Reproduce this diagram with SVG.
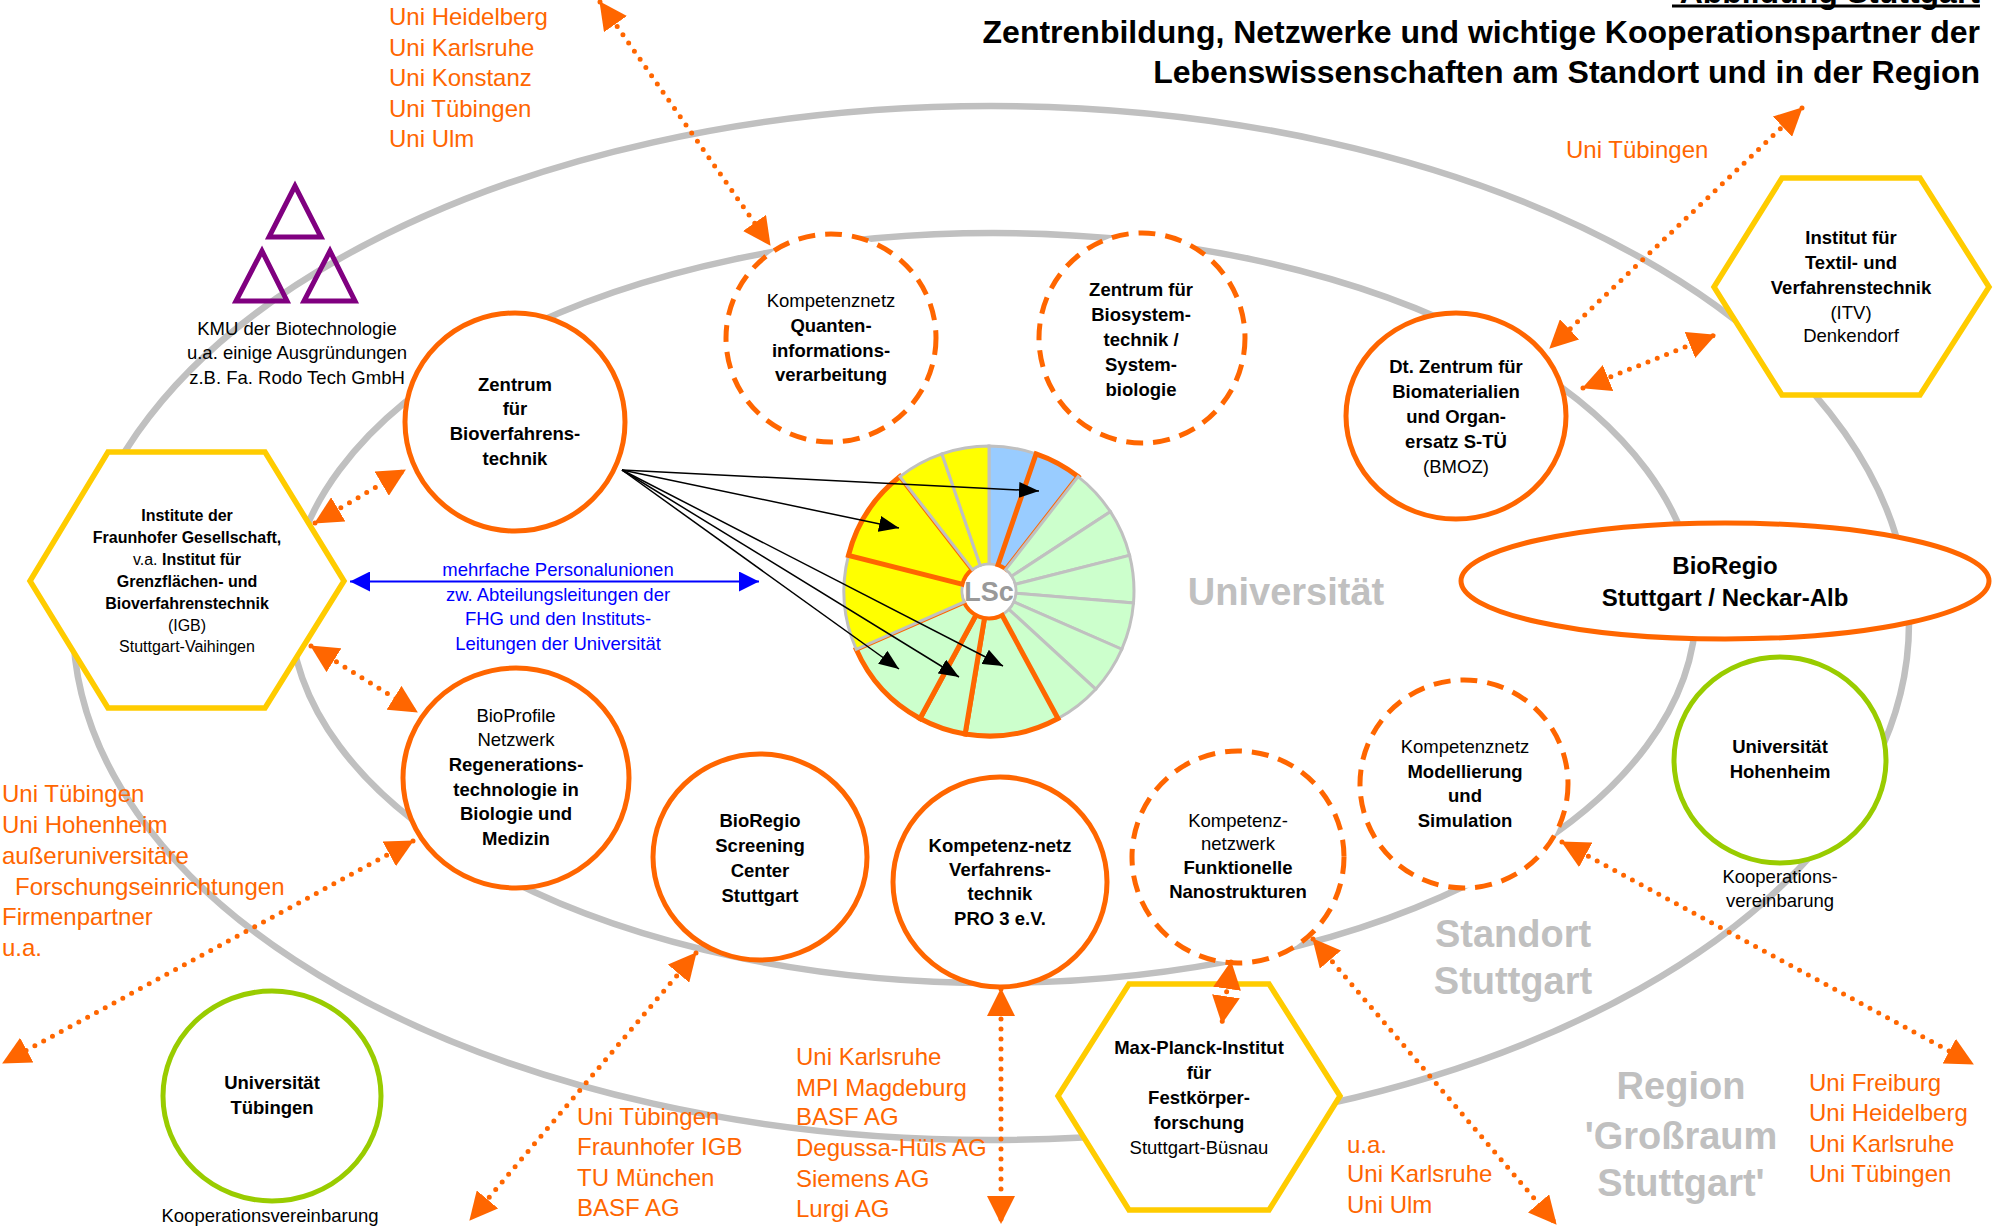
<svg xmlns="http://www.w3.org/2000/svg" width="1993" height="1226" viewBox="0 0 1993 1226">
<style>
.t{font-family:"Liberation Sans",Arial,Helvetica,sans-serif;font-size:18.5px;text-anchor:middle;fill:#000}
.b{font-weight:bold}
.s{font-size:16px}
.big{font-size:24px}
.o{font-family:"Liberation Sans",Arial,Helvetica,sans-serif;font-size:24px;fill:#ff6600}
.bl{fill:#0000ff}
.gl{font-family:"Liberation Sans",Arial,Helvetica,sans-serif;font-size:38px;font-weight:bold;fill:#c0c0c0;text-anchor:middle}
.h{font-family:"Liberation Sans",Arial,Helvetica,sans-serif;font-size:32px;font-weight:bold;text-anchor:end;fill:#000}
.ring{fill:none;stroke:#c0c0c0;stroke-width:6.5}
.sc{fill:#fff;stroke:#ff6600;stroke-width:5}
.dc{fill:#fff;stroke:#ff6600;stroke-width:5;stroke-dasharray:17 10}
.gc{fill:#fff;stroke:#99cc00;stroke-width:5}
.hex{fill:#fff;stroke:#ffcc00;stroke-width:5.5}
.tri{fill:none;stroke:#800080;stroke-width:5}
.dot{fill:none;stroke:#ff6600;stroke-width:5;stroke-linecap:round;stroke-dasharray:0 10;marker-start:url(#ao);marker-end:url(#ao)}
.seg{stroke:#c0c0c0;stroke-width:3}
.hl{stroke:#ff6600;stroke-width:5}
.y{fill:#ffff00}.bu{fill:#99ccff}.gr{fill:#ccffcc}
.ba{stroke:#000;stroke-width:1.5;fill:none;marker-end:url(#ab)}
</style>
<defs>
<marker id="ao" viewBox="0 0 28 28" refX="27" refY="14" markerWidth="28" markerHeight="28" markerUnits="userSpaceOnUse" orient="auto-start-reverse"><path d="M0,0 L28,14 L0,28 Z" fill="#ff6600"/></marker>
<marker id="ab" viewBox="0 0 20 16" refX="20" refY="8" markerWidth="20" markerHeight="16" markerUnits="userSpaceOnUse" orient="auto"><path d="M0,0 L20,8 L0,16 Z" fill="#000"/></marker>
<marker id="abl" viewBox="0 0 20 20" refX="20" refY="10" markerWidth="20" markerHeight="20" markerUnits="userSpaceOnUse" orient="auto-start-reverse"><path d="M0,0 L20,10 L0,20 Z" fill="#0000ff"/></marker>
</defs>
<rect width="1993" height="1226" fill="#fff"/>

<g id="title">
<text class="h" x="1980" y="3">Abbildung Stuttgart</text>
<rect x="1672" y="4.5" width="308" height="3" fill="#000"/>
<text class="h" x="1980" y="43">Zentrenbildung, Netzwerke und wichtige Kooperationspartner der</text>
<text class="h" x="1980" y="83">Lebenswissenschaften am Standort und in der Region</text>
</g>

<g id="regions">
<ellipse class="ring" cx="991" cy="623" rx="918" ry="517"/>
<ellipse class="ring" cx="993" cy="608" rx="703" ry="375"/>
<text class="gl" x="1286" y="605">Universität</text>
<text class="gl" x="1513" y="947">Standort</text>
<text class="gl" x="1513" y="994">Stuttgart</text>
<text class="gl" x="1681" y="1099">Region</text>
<text class="gl" x="1681" y="1149">'Großraum</text>
<text class="gl" x="1681" y="1196">Stuttgart'</text>
</g>

<g id="lsc">
<path class="seg bu" d="M989,564 L989,446 A145,145 0 0 1 1036.08,453.86 L997.77,565.46 A27,27 0 0 0 989,564 Z"/>
<path class="hl bu" d="M997.77,565.46 L1036.08,453.86 A145,145 0 0 1 1078.06,476.57 L1005.58,569.69 A27,27 0 0 0 997.77,565.46 Z"/>
<path class="seg gr" d="M1005.58,569.69 L1078.06,476.57 A145,145 0 0 1 1110.39,511.69 L1011.60,576.23 A27,27 0 0 0 1005.58,569.69 Z"/>
<path class="seg gr" d="M1011.60,576.23 L1110.39,511.69 A145,145 0 0 1 1129.56,555.40 L1015.17,584.37 A27,27 0 0 0 1011.60,576.23 Z"/>
<path class="seg gr" d="M1015.17,584.37 L1129.56,555.40 A145,145 0 0 1 1133.50,602.97 L1015.91,593.23 A27,27 0 0 0 1015.17,584.37 Z"/>
<path class="seg gr" d="M1015.91,593.23 L1133.50,602.97 A145,145 0 0 1 1121.79,649.25 L1013.73,601.85 A27,27 0 0 0 1015.91,593.23 Z"/>
<path class="seg gr" d="M1013.73,601.85 L1121.79,649.25 A145,145 0 0 1 1095.68,689.21 L1008.86,609.29 A27,27 0 0 0 1013.73,601.85 Z"/>
<path class="seg gr" d="M1008.86,609.29 L1095.68,689.21 A145,145 0 0 1 1058.01,718.52 L1001.85,614.75 A27,27 0 0 0 1008.86,609.29 Z"/>
<path class="hl gr" d="M1001.85,614.75 L1058.01,718.52 A145,145 0 0 1 965.13,734.02 L984.56,617.63 A27,27 0 0 0 1001.85,614.75 Z"/>
<path class="hl gr" d="M984.56,617.63 L965.13,734.02 A145,145 0 0 1 919.99,718.52 L976.15,614.75 A27,27 0 0 0 984.56,617.63 Z"/>
<path class="hl gr" d="M976.15,614.75 L919.99,718.52 A145,145 0 0 1 856.21,649.25 L964.27,601.85 A27,27 0 0 0 976.15,614.75 Z"/>
<path class="seg y" d="M964.27,601.85 L856.21,649.25 A145,145 0 0 1 848.44,555.40 L962.83,584.37 A27,27 0 0 0 964.27,601.85 Z"/>
<path class="hl y" d="M962.83,584.37 L848.44,555.40 A145,145 0 0 1 899.94,476.57 L972.42,569.69 A27,27 0 0 0 962.83,584.37 Z"/>
<path class="seg y" d="M972.42,569.69 L899.94,476.57 A145,145 0 0 1 941.92,453.86 L980.23,565.46 A27,27 0 0 0 972.42,569.69 Z"/>
<path class="seg y" d="M980.23,565.46 L941.92,453.86 A145,145 0 0 1 989,446 L989,564 A27,27 0 0 0 980.23,565.46 Z"/>
<circle cx="989" cy="591" r="25.5" fill="#fff"/>
<text x="989" y="600.5" text-anchor="middle" font-family="Liberation Sans, Arial, sans-serif" font-size="27" font-weight="bold" fill="#999999">LSc</text>
</g>

<g id="kmu">
<polygon class="tri" points="295,186 269,237 321,237"/>
<polygon class="tri" points="262,251 236,301 287,301"/>
<polygon class="tri" points="330,251 304,301 355,301"/>
<text class="t" x="297" y="335">KMU der Biotechnologie</text>
<text class="t" x="297" y="359">u.a. einige Ausgründungen</text>
<text class="t" x="297" y="384">z.B. Fa. Rodo Tech GmbH</text>
</g>

<g id="fraunhofer">
<polygon class="hex" points="30,581 108,452 265,452 344,581 265,708 108,708"/>
<text class="t s b" x="187" y="521">Institute der</text>
<text class="t s b" x="187" y="543">Fraunhofer Gesellschaft,</text>
<text class="t s" x="187" y="565">v.a. <tspan class="b">Institut für</tspan></text>
<text class="t s b" x="187" y="587">Grenzflächen- und</text>
<text class="t s b" x="187" y="609">Bioverfahrenstechnik</text>
<text class="t s" x="187" y="631">(IGB)</text>
<text class="t s" x="187" y="652">Stuttgart-Vaihingen</text>
</g>

<g id="zentrum-bvt">
<ellipse class="sc" cx="515" cy="422" rx="110" ry="109"/>
<text class="t b" x="515" y="391">Zentrum</text>
<text class="t b" x="515" y="415">für</text>
<text class="t b" x="515" y="440">Bioverfahrens-</text>
<text class="t b" x="515" y="465">technik</text>
</g>

<g id="quanten">
<ellipse class="dc" cx="831" cy="338" rx="105" ry="104"/>
<text class="t" x="831" y="307">Kompetenznetz</text>
<text class="t b" x="831" y="332">Quanten-</text>
<text class="t b" x="831" y="357">informations-</text>
<text class="t b" x="831" y="381">verarbeitung</text>
</g>

<g id="biosystem">
<ellipse class="dc" cx="1142" cy="338" rx="103" ry="105"/>
<text class="t b" x="1141" y="296">Zentrum für</text>
<text class="t b" x="1141" y="321">Biosystem-</text>
<text class="t b" x="1141" y="346">technik /</text>
<text class="t b" x="1141" y="371">System-</text>
<text class="t b" x="1141" y="396">biologie</text>
</g>

<g id="bmoz">
<ellipse class="sc" cx="1456" cy="416" rx="110" ry="103"/>
<text class="t b" x="1456" y="373">Dt. Zentrum für</text>
<text class="t b" x="1456" y="398">Biomaterialien</text>
<text class="t b" x="1456" y="423">und Organ-</text>
<text class="t b" x="1456" y="448">ersatz S-TÜ</text>
<text class="t" x="1456" y="473">(BMOZ)</text>
</g>

<g id="itv">
<polygon class="hex" points="1714,287 1782,178 1920,178 1989,287 1920,395 1782,395"/>
<text class="t b" x="1851" y="244">Institut für</text>
<text class="t b" x="1851" y="269">Textil- und</text>
<text class="t b" x="1851" y="294">Verfahrenstechnik</text>
<text class="t" x="1851" y="319">(ITV)</text>
<text class="t" x="1851" y="342">Denkendorf</text>
</g>

<g id="bioregio">
<ellipse class="sc" cx="1725" cy="581" rx="264" ry="58"/>
<text class="t b big" x="1725" y="574">BioRegio</text>
<text class="t b big" x="1725" y="606">Stuttgart / Neckar-Alb</text>
</g>

<g id="hohenheim">
<ellipse class="gc" cx="1780" cy="760" rx="106" ry="103"/>
<text class="t b" x="1780" y="753">Universität</text>
<text class="t b" x="1780" y="778">Hohenheim</text>
<text class="t" x="1780" y="883">Kooperations-</text>
<text class="t" x="1780" y="907">vereinbarung</text>
</g>

<g id="tuebingen">
<ellipse class="gc" cx="272" cy="1096" rx="109" ry="105"/>
<text class="t b" x="272" y="1089">Universität</text>
<text class="t b" x="272" y="1114">Tübingen</text>
<text class="t" x="270" y="1222">Kooperationsvereinbarung</text>
</g>

<g id="bioprofile">
<ellipse class="sc" cx="516" cy="778" rx="113" ry="110"/>
<text class="t" x="516" y="722">BioProfile</text>
<text class="t" x="516" y="746">Netzwerk</text>
<text class="t b" x="516" y="771">Regenerations-</text>
<text class="t b" x="516" y="796">technologie in</text>
<text class="t b" x="516" y="820">Biologie und</text>
<text class="t b" x="516" y="845">Medizin</text>
</g>

<g id="screening">
<ellipse class="sc" cx="760" cy="857" rx="107" ry="103"/>
<text class="t b" x="760" y="827">BioRegio</text>
<text class="t b" x="760" y="852">Screening</text>
<text class="t b" x="760" y="877">Center</text>
<text class="t b" x="760" y="902">Stuttgart</text>
</g>

<g id="pro3">
<ellipse class="sc" cx="1000" cy="882" rx="107" ry="105"/>
<text class="t b" x="1000" y="852">Kompetenz-netz</text>
<text class="t b" x="1000" y="876">Verfahrens-</text>
<text class="t b" x="1000" y="900">technik</text>
<text class="t b" x="1000" y="925">PRO 3 e.V.</text>
</g>

<g id="nano">
<ellipse class="dc" cx="1238" cy="857" rx="106" ry="106"/>
<text class="t" x="1238" y="827">Kompetenz-</text>
<text class="t" x="1238" y="850">netzwerk</text>
<text class="t b" x="1238" y="874">Funktionelle</text>
<text class="t b" x="1238" y="898">Nanostrukturen</text>
</g>

<g id="modellierung">
<ellipse class="dc" cx="1464" cy="784" rx="104" ry="104"/>
<text class="t" x="1465" y="753">Kompetenznetz</text>
<text class="t b" x="1465" y="778">Modellierung</text>
<text class="t b" x="1465" y="802">und</text>
<text class="t b" x="1465" y="827">Simulation</text>
</g>

<g id="mpi">
<polygon class="hex" points="1058,1096 1129,984 1269,984 1340,1096 1269,1210 1129,1210"/>
<text class="t b" x="1199" y="1054">Max-Planck-Institut</text>
<text class="t b" x="1199" y="1079">für</text>
<text class="t b" x="1199" y="1104">Festkörper-</text>
<text class="t b" x="1199" y="1129">forschung</text>
<text class="t" x="1199" y="1154">Stuttgart-Büsnau</text>
</g>

<g id="connectors">
<path class="dot" d="M600,2 L770,245"/>
<path class="dot" d="M1802,108 L1550,348"/>
<path class="dot" d="M1583,388 L1715,335"/>
<path class="dot" d="M315,523 L405,470"/>
<path class="dot" d="M311,646 L417,712"/>
<path class="dot" d="M413,841 L3,1063"/>
<path class="dot" d="M696,953 L470,1220"/>
<path class="dot" d="M1001,989 L1001,1223"/>
<path class="dot" d="M1231,962 L1222,1023"/>
<path class="dot" d="M1313,939 L1556,1224"/>
<path class="dot" d="M1562,842 L1973,1064"/>
<path d="M350,581.5 L759,581.5" stroke="#0000ff" stroke-width="2" fill="none" marker-start="url(#abl)" marker-end="url(#abl)"/>
<path class="ba" d="M622,470 L1039,491"/>
<path class="ba" d="M622,470 L899,528"/>
<path class="ba" d="M622,470 L899,669"/>
<path class="ba" d="M622,470 L959,677"/>
<path class="ba" d="M622,470 L1003,666"/>
</g>

<g id="labels">
<text class="t bl" x="558" y="576">mehrfache Personalunionen</text>
<text class="t bl" x="558" y="601">zw. Abteilungsleitungen der</text>
<text class="t bl" x="558" y="625">FHG und den Instituts-</text>
<text class="t bl" x="558" y="650">Leitungen der Universität</text>
<text class="o" x="389" y="25">Uni Heidelberg</text>
<text class="o" x="389" y="56">Uni Karlsruhe</text>
<text class="o" x="389" y="86">Uni Konstanz</text>
<text class="o" x="389" y="117">Uni Tübingen</text>
<text class="o" x="389" y="147">Uni Ulm</text>
<text class="o" x="1566" y="158">Uni Tübingen</text>
<text class="o" x="2" y="802">Uni Tübingen</text>
<text class="o" x="2" y="833">Uni Hohenheim</text>
<text class="o" x="2" y="864">außeruniversitäre</text>
<text class="o" x="15" y="895">Forschungseinrichtungen</text>
<text class="o" x="2" y="925">Firmenpartner</text>
<text class="o" x="2" y="956">u.a.</text>
<text class="o" x="577" y="1125">Uni Tübingen</text>
<text class="o" x="577" y="1155">Fraunhofer IGB</text>
<text class="o" x="577" y="1186">TU München</text>
<text class="o" x="577" y="1216">BASF AG</text>
<text class="o" x="796" y="1065">Uni Karlsruhe</text>
<text class="o" x="796" y="1096">MPI Magdeburg</text>
<text class="o" x="796" y="1125">BASF AG</text>
<text class="o" x="796" y="1156">Degussa-Hüls AG</text>
<text class="o" x="796" y="1187">Siemens AG</text>
<text class="o" x="796" y="1217">Lurgi AG</text>
<text class="o" x="1347" y="1153">u.a.</text>
<text class="o" x="1347" y="1182">Uni Karlsruhe</text>
<text class="o" x="1347" y="1213">Uni Ulm</text>
<text class="o" x="1809" y="1091">Uni Freiburg</text>
<text class="o" x="1809" y="1121">Uni Heidelberg</text>
<text class="o" x="1809" y="1152">Uni Karlsruhe</text>
<text class="o" x="1809" y="1182">Uni Tübingen</text>
</g>
</svg>
